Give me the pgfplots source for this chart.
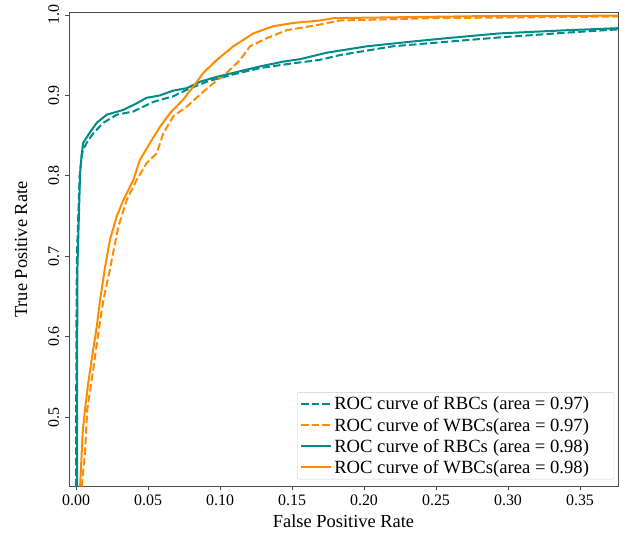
\documentclass[border=0pt]{standalone}
\usepackage{fontspec}
\setmainfont{Liberation Serif}
\usepackage{pgfplots}
\pgfplotsset{compat=1.18}
\definecolor{teal2}{RGB}{0,139,139}
\definecolor{orng}{RGB}{255,140,0}
\begin{document}
\begin{tikzpicture}
\begin{axis}[
  scale only axis,
  width=549bp, height=474bp,
  xmin=-0.0049, xmax=0.3764,
  ymin=0.414, ymax=1.003,
  xtick={0,0.05,0.10,0.15,0.20,0.25,0.30,0.35},
  ytick={0.5,0.6,0.7,0.8,0.9,1.0},
  xticklabel style={/pgf/number format/fixed, /pgf/number format/fixed zerofill, /pgf/number format/precision=2, yshift=-1bp},
  yticklabel style={/pgf/number format/fixed, /pgf/number format/fixed zerofill, /pgf/number format/precision=1, xshift=-3bp, rotate=90, anchor=south},
  /pgf/number format/assume math mode=true,
  tick label style={font=\fontsize{16}{18}\selectfont},
  label style={font=\fontsize{18.5}{21}\selectfont},
  xlabel={False Positive Rate},
  ylabel={True Positive Rate},
  xlabel style={yshift=-3bp},
  ylabel style={yshift=14bp},
  tick align=outside,
  major tick length=3.5bp,
  tick style={black!70, line width=0.8bp},
  axis line style={black!70, line width=0.8bp},
  xtick pos=bottom, ytick pos=left,
  legend style={at={(rel axis cs:0.993,0.015)}, anchor=south east,
    font=\fontsize{18.7}{21}\selectfont, draw=black!20, rounded corners=2bp,
    row sep=2.5bp, inner xsep=3bp, inner ysep=2.5bp},
  legend cell align=left,
  legend image code/.code={\draw[#1] (0bp,0bp) -- (30bp,0bp);},
  every axis plot/.append style={line width=2bp, line join=round},
]
\addplot[teal2, dash pattern=on 7.4bp off 3.2bp] coordinates {
(0.0000,0.414) (0.0002,0.600) (0.0006,0.700) (0.0025,0.800) (0.0040,0.826) (0.0050,0.833) (0.0080,0.843) (0.0120,0.853) (0.0190,0.866) (0.0283,0.876) (0.0398,0.880) (0.0537,0.892) (0.0676,0.899) (0.0769,0.907) (0.0907,0.917) (0.1090,0.926) (0.1280,0.934) (0.1510,0.940) (0.1690,0.944) (0.1830,0.950) (0.2200,0.961) (0.2600,0.967) (0.2940,0.972) (0.3410,0.978) (0.3764,0.982)
};
\addlegendentry{\rlap{ROC curve of RBCs}\phantom{ROC curve of WBCs}(area = 0.97)\hspace*{20bp}}
\addplot[orng, dash pattern=on 7.4bp off 3.2bp] coordinates {
(0.0040,0.414) (0.0062,0.456) (0.0078,0.510) (0.0120,0.560) (0.0155,0.605) (0.0190,0.646) (0.0236,0.684) (0.0248,0.696) (0.0294,0.737) (0.0352,0.770) (0.0421,0.795) (0.0491,0.816) (0.0560,0.828) (0.0606,0.853) (0.0676,0.874) (0.0769,0.886) (0.0861,0.901) (0.0953,0.915) (0.1046,0.928) (0.1139,0.944) (0.1208,0.961) (0.1324,0.971) (0.1463,0.981) (0.1694,0.988) (0.1830,0.993) (0.2480,0.996) (0.3764,0.998)
};
\addlegendentry{ROC curve of WBCs(area = 0.97)\hspace*{20bp}}
\addplot[teal2] coordinates {
(0.0008,0.414) (0.0008,0.600) (0.0010,0.688) (0.0028,0.804) (0.0040,0.828) (0.0050,0.841) (0.0085,0.851) (0.0144,0.866) (0.0213,0.876) (0.0329,0.882) (0.0420,0.890) (0.0490,0.897) (0.0583,0.900) (0.0676,0.906) (0.0770,0.909) (0.0860,0.917) (0.0977,0.923) (0.1092,0.928) (0.1278,0.936) (0.1440,0.942) (0.1556,0.945) (0.1740,0.953) (0.2020,0.961) (0.2340,0.967) (0.2570,0.971) (0.2940,0.977) (0.3410,0.981) (0.3764,0.9835)
};
\addlegendentry{\rlap{ROC curve of RBCs}\phantom{ROC curve of WBCs}(area = 0.98)\hspace*{20bp}}
\addplot[orng] coordinates {
(0.0028,0.414) (0.0046,0.481) (0.0062,0.510) (0.0085,0.543) (0.0109,0.572) (0.0144,0.613) (0.0167,0.646) (0.0201,0.686) (0.0236,0.721) (0.0283,0.750) (0.0329,0.770) (0.0398,0.795) (0.0444,0.820) (0.0514,0.841) (0.0583,0.861) (0.0653,0.878) (0.0745,0.895) (0.0815,0.911) (0.0884,0.928) (0.0977,0.944) (0.1092,0.961) (0.1231,0.977) (0.1370,0.986) (0.1509,0.990) (0.1694,0.993) (0.1790,0.996) (0.2940,0.9988) (0.3764,0.999)
};
\addlegendentry{ROC curve of WBCs(area = 0.98)\hspace*{20bp}}
\end{axis}
\path (current axis.south west) ++(-69bp,-47bp) coordinate (bl);
\path (current axis.north east) ++(7bp,12.5bp) coordinate (tr);
\path[use as bounding box] (bl) rectangle (tr);
\end{tikzpicture}
\end{document}
